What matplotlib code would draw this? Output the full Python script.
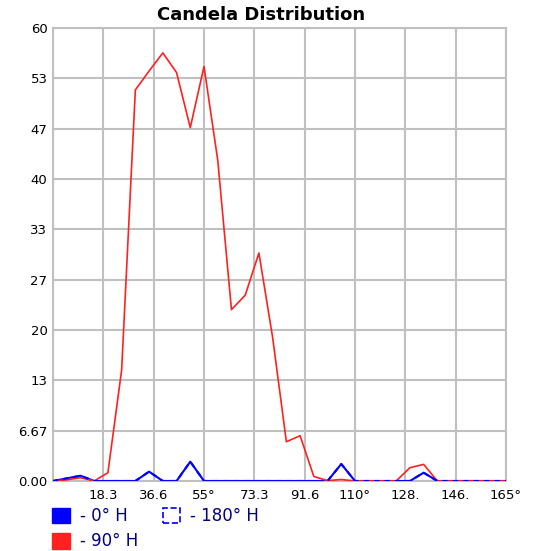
import matplotlib
matplotlib.use('Agg')
import matplotlib.pyplot as plt
from matplotlib.patches import Patch

# ── data ──────────────────────────────────────────────────────
angles = list(range(0, 170, 5))
cd_0h = [0, 0.35, 0.7, 0, 0, 0, 0, 1.24, 0, 0, 2.56, 0, 0, 0, 0, 0, 0, 0,
         0, 0, 0, 2.25, 0, 0, 0, 0, 0, 1.1, 0, 0, 0, 0, 0, 0]
cd_90h = [0, 0.15, 0.44, 0, 1.1, 14.7, 51.8, 54.3, 56.7, 54.1, 46.8, 54.9,
          42.5, 22.7, 24.6, 30.2, 19.0, 5.2, 6.0, 0.6, 0.05, 0.2, 0, 0,
          0, 0, 1.76, 2.2, 0, 0, 0, 0, 0, 0]
cd_180h = cd_0h  # symmetric with 0° H

yticks = [0, 6.667, 13.333, 20, 26.667, 33.333, 40, 46.667, 53.333, 60]
ylabels = ['0.00', '6.67', '13', '20', '27', '33', '40', '47', '53', '60']
xticks = [0, 18.33, 36.67, 55, 73.33, 91.67, 110, 128.33, 146.67, 165]
xlabels = ['', '18.3', '36.6', '55°', '73.3', '91.6', '110°', '128.', '146.', '165°']

BLUE = '#0000ff'; RED = '#ff2020'; GRID = '#c0c0c0'; NAVY = '#000080'

fig = plt.figure(figsize=(5.34, 5.51), dpi=100)
ax = fig.add_axes([53/534, 1-481/551, 453/534, 453/551])

ax.plot(angles, cd_0h, color=BLUE, lw=1.5, zorder=3)
ax.plot(angles, cd_90h, color=RED, lw=1.2, zorder=4)
ax.plot(angles, cd_180h, color=BLUE, lw=1.5, ls=(0, (2.5, 2.5)), zorder=5)

ax.set_xlim(0, 165); ax.set_ylim(0, 60)
ax.set_xticks(xticks); ax.set_xticklabels(xlabels, fontsize=9.5)
ax.set_yticks(yticks); ax.set_yticklabels(ylabels, fontsize=9.5)
ax.tick_params(axis='x', length=0, pad=6)
ax.tick_params(axis='y', length=0, pad=4)
ax.grid(True, color=GRID, lw=1.5)
for s in ax.spines.values():
    s.set_color(GRID); s.set_linewidth(1.5)

fig.text(261/534, 1-15/551, 'Candela Distribution', ha='center', va='center',
         fontsize=13, fontweight='bold')

handles = [Patch(facecolor=BLUE, edgecolor=BLUE),
           Patch(facecolor=RED, edgecolor=RED),
           Patch(facecolor='none', edgecolor=BLUE, ls='--', lw=1.2)]
leg = fig.legend(handles, ['- 0° H', '- 90° H', '- 180° H'], ncol=2,
                 loc='upper left', bbox_to_anchor=(52/534, 1-507/551),
                 frameon=False, fontsize=12, handlelength=1.05, handleheight=1.05,
                 handletextpad=0.6, columnspacing=1.5, labelspacing=0.45,
                 borderpad=0, borderaxespad=0)
for t in leg.get_texts():
    t.set_color(NAVY)

fig.savefig('out.png', dpi=100)
